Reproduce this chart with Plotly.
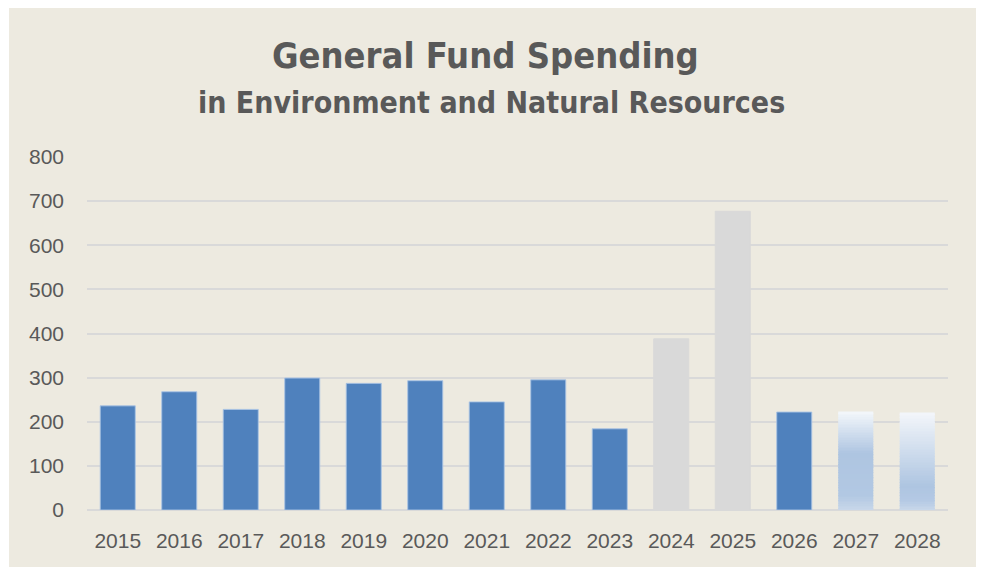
import plotly.graph_objects as go

years = ["2015", "2016", "2017", "2018", "2019", "2020", "2021",
         "2022", "2023", "2024", "2025", "2026", "2027", "2028"]
spending = [236, 268, 228, 299, 287, 293, 245, 295, 184, 388, 677, 222, 223, 221]
bar_kind = ["actual"] * 9 + ["onetime", "onetime", "actual", "projected", "projected"]

y_ticks = [0, 100, 200, 300, 400, 500, 600, 700, 800]

BLUE = "#4F81BD"
GREY = "#D9D9D9"
BG = "#EDEAE0"
TXT = "#595959"

OFF = 8  # page body margin
W, H = 984 - OFF, 567 - OFF
ML, MR, MT, MB = 87 - OFF, 36, 157 - OFF, 57
pw, ph = W - ML - MR, H - MT - MB


def px_to_paper_x(px):
    return (px - OFF - ML) / pw


def px_to_paper_y(py):
    return (H - MB - (py - OFF)) / ph


grad_stops = {
    "2027": [(0.0, (243, 247, 251)), (0.42, (174, 197, 225)), (0.85, (178, 200, 227)), (1.0, (201, 216, 234))],
    "2028": [(0.0, (243, 246, 250)), (0.75, (174, 197, 225)), (0.9, (180, 201, 228)), (1.0, (201, 216, 234))],
}


def interp(stops, t):
    for (t0, c0), (t1, c1) in zip(stops, stops[1:]):
        if t0 <= t <= t1:
            f = (t - t0) / (t1 - t0) if t1 > t0 else 0
            return "rgb(%d,%d,%d)" % tuple(round(a + (b - a) * f) for a, b in zip(c0, c1))
    return "rgb(%d,%d,%d)" % stops[-1][1]


fig = go.Figure()

main_colors = []
main_lines = []
main_vals = []
for y, v, k in zip(years, spending, bar_kind):
    if k == "actual":
        main_colors.append(BLUE)
        main_lines.append("rgba(170,195,228,0.9)")
        main_vals.append(v)
    elif k == "onetime":
        main_colors.append(GREY)
        main_lines.append(GREY)
        main_vals.append(v)
    else:
        main_colors.append("rgba(0,0,0,0)")
        main_lines.append("rgba(0,0,0,0)")
        main_vals.append(None)

fig.add_trace(go.Bar(
    x=years, y=main_vals,
    marker=dict(color=main_colors, line=dict(color=main_lines, width=1)),
    showlegend=False, hoverinfo="x+y",
))

N = 60
for y, v, k in zip(years, spending, bar_kind):
    if k != "projected":
        continue
    stops = grad_stops[y]
    seg = v / N
    bases = [i * seg for i in range(N)]
    cols = [interp(stops, 1 - (i + 0.5) / N) for i in range(N)]
    fig.add_trace(go.Bar(
        x=[y] * N, y=[seg * 1.02] * N, base=bases,
        marker=dict(color=cols, line=dict(width=0)),
        showlegend=False, hoverinfo="skip",
    ))

fig.add_shape(type="rect", xref="paper", yref="paper", layer="below",
              x0=px_to_paper_x(9), x1=px_to_paper_x(978),
              y0=px_to_paper_y(6), y1=px_to_paper_y(600),
              fillcolor=BG, line=dict(width=0))

TITLE_FONT = "DejaVu Sans Condensed, Liberation Sans Narrow, Arial Narrow, sans-serif"
fig.add_annotation(text="<b>General Fund Spending</b>", xref="paper", yref="paper",
                   x=px_to_paper_x(485), y=px_to_paper_y(56), xanchor="center", yanchor="middle",
                   showarrow=False, font=dict(family=TITLE_FONT, size=36, color=TXT))
fig.add_annotation(text="<b>in Environment and Natural Resources</b>", xref="paper", yref="paper",
                   x=px_to_paper_x(491), y=px_to_paper_y(102), xanchor="center", yanchor="middle",
                   showarrow=False, font=dict(family=TITLE_FONT, size=30, color=TXT))

fig.update_layout(
    width=W, height=H,
    margin=dict(l=ML, r=MR, t=MT, b=MB),
    paper_bgcolor="white",
    plot_bgcolor="rgba(0,0,0,0)",
    barmode="overlay",
    bargap=0.43,
    font=dict(family="Liberation Sans, Arial, sans-serif", color=TXT, size=21),
)
fig.update_xaxes(type="category", showgrid=False, showline=False, zeroline=False,
                 ticks="", ticklabelstandoff=16, tickfont=dict(size=21, color=TXT))
fig.update_yaxes(range=[0, 800], tickvals=y_ticks, showgrid=True, gridcolor="#D9D9D9",
                 gridwidth=1.5, zeroline=True, zerolinecolor="#D9D9D9", zerolinewidth=1.5,
                 showline=False, ticks="", ticklabelstandoff=22,
                 tickfont=dict(size=21, color=TXT))

fig.write_html("out.html")
